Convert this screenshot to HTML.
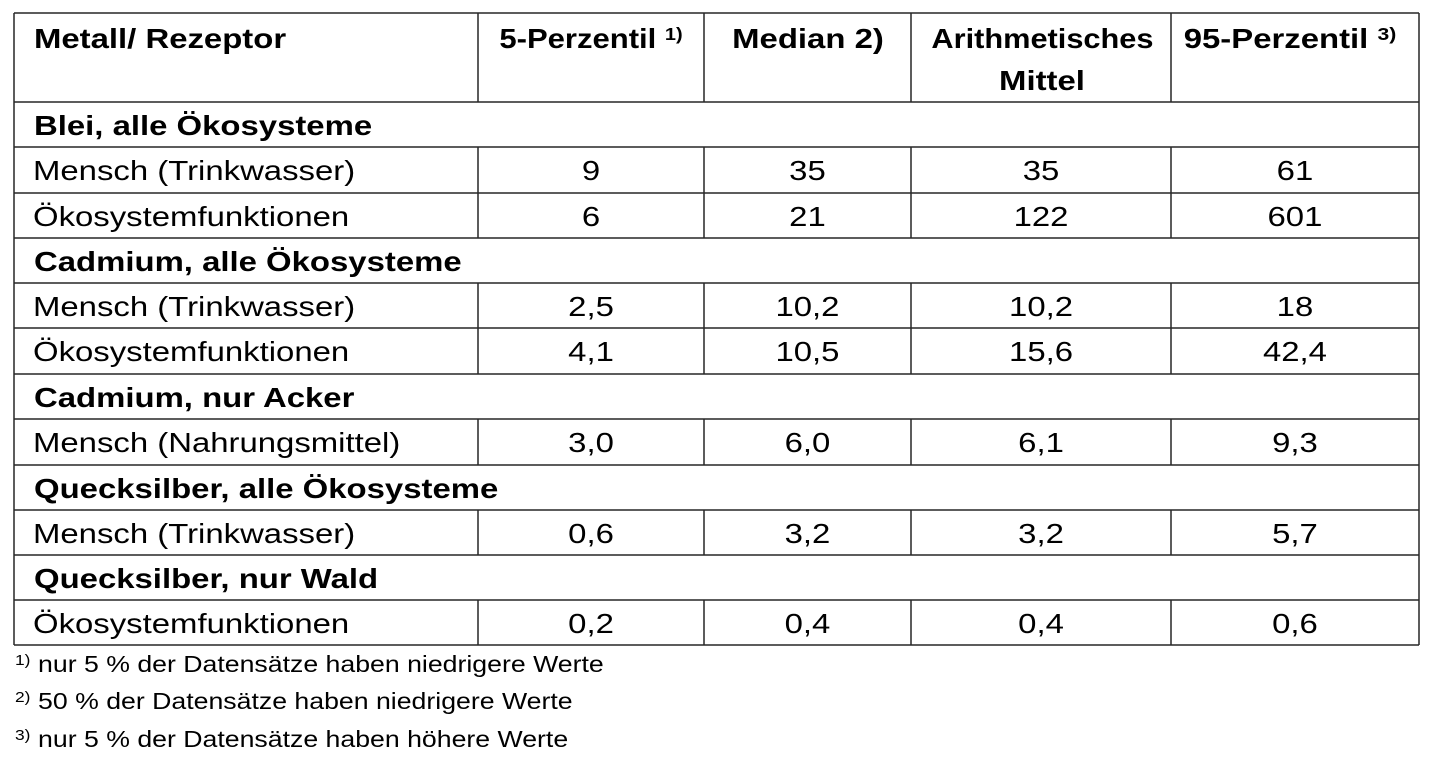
<!DOCTYPE html>
<html>
<head>
<meta charset="utf-8">
<style>
  html, body { margin: 0; padding: 0; background: #ffffff; }
  body { width: 1431px; height: 771px; overflow: hidden; }
  svg { display: block; }
  text { font-family: "Liberation Sans", Arial, sans-serif; fill: #000; }
  .b { font-weight: bold; }
</style>
</head>
<body>
<svg width="1431" height="771" viewBox="0 0 1431 771" xmlns="http://www.w3.org/2000/svg">
  <rect x="0" y="0" width="1431" height="771" fill="#fff"/>
  <g stroke="#262626" stroke-width="1.5" fill="none">
    <line x1="14" y1="13" x2="14" y2="645"/>
    <line x1="1419" y1="13" x2="1419" y2="645"/>
    <line x1="14" y1="13" x2="1419" y2="13"/>
    <line x1="14" y1="102" x2="1419" y2="102"/>
    <line x1="14" y1="147" x2="1419" y2="147"/>
    <line x1="14" y1="193" x2="1419" y2="193"/>
    <line x1="14" y1="238" x2="1419" y2="238"/>
    <line x1="14" y1="283" x2="1419" y2="283"/>
    <line x1="14" y1="328" x2="1419" y2="328"/>
    <line x1="14" y1="374" x2="1419" y2="374"/>
    <line x1="14" y1="419" x2="1419" y2="419"/>
    <line x1="14" y1="465" x2="1419" y2="465"/>
    <line x1="14" y1="510" x2="1419" y2="510"/>
    <line x1="14" y1="555" x2="1419" y2="555"/>
    <line x1="14" y1="600" x2="1419" y2="600"/>
    <line x1="14" y1="645" x2="1419" y2="645"/>
    <path d="M478 13V102 M704 13V102 M911 13V102 M1171 13V102
             M478 147V238 M704 147V238 M911 147V238 M1171 147V238
             M478 283V374 M704 283V374 M911 283V374 M1171 283V374
             M478 419V465 M704 419V465 M911 419V465 M1171 419V465
             M478 510V555 M704 510V555 M911 510V555 M1171 510V555
             M478 600V645 M704 600V645 M911 600V645 M1171 600V645"/>
  </g>

  <g transform="scale(1.175 1)" font-size="28">
    <text class="b" x="28.94" y="48">Metall/ Rezeptor</text>
    <text class="b" x="502.98" y="48" text-anchor="middle" textLength="156" lengthAdjust="spacingAndGlyphs">5-Perzentil <tspan font-size="18" dy="-8">1)</tspan></text>
    <text class="b" x="687.66" y="48" text-anchor="middle">Median 2)</text>
    <text class="b" x="887.2" y="48" text-anchor="middle" textLength="189" lengthAdjust="spacingAndGlyphs">Arithmetisches</text>
    <text class="b" x="886.8" y="90" text-anchor="middle">Mittel</text>
    <text class="b" x="1097.87" y="48" text-anchor="middle">95-Perzentil <tspan font-size="18" dy="-8">3)</tspan></text>

    <text class="b" x="28.94" y="135">Blei, alle Ökosysteme</text>
    <text class="b" x="28.94" y="271">Cadmium, alle Ökosysteme</text>
    <text class="b" x="28.94" y="407">Cadmium, nur Acker</text>
    <text class="b" x="28.94" y="498">Quecksilber, alle Ökosysteme</text>
    <text class="b" x="28.94" y="588">Quecksilber, nur Wald</text>

    <text x="28.09" y="180">Mensch (Trinkwasser)</text>
    <text x="503.0" y="180" text-anchor="middle">9</text>
    <text x="687.2" y="180" text-anchor="middle">35</text>
    <text x="886.0" y="180" text-anchor="middle">35</text>
    <text x="1102.1" y="180" text-anchor="middle">61</text>

    <text x="28.09" y="226">Ökosystemfunktionen</text>
    <text x="503.0" y="226" text-anchor="middle">6</text>
    <text x="687.2" y="226" text-anchor="middle">21</text>
    <text x="886.0" y="226" text-anchor="middle">122</text>
    <text x="1102.1" y="226" text-anchor="middle">601</text>

    <text x="28.09" y="316">Mensch (Trinkwasser)</text>
    <text x="503.0" y="316" text-anchor="middle">2,5</text>
    <text x="687.2" y="316" text-anchor="middle">10,2</text>
    <text x="886.0" y="316" text-anchor="middle">10,2</text>
    <text x="1102.1" y="316" text-anchor="middle">18</text>

    <text x="28.09" y="361">Ökosystemfunktionen</text>
    <text x="503.0" y="361" text-anchor="middle">4,1</text>
    <text x="687.2" y="361" text-anchor="middle">10,5</text>
    <text x="886.0" y="361" text-anchor="middle">15,6</text>
    <text x="1102.1" y="361" text-anchor="middle">42,4</text>

    <text x="28.09" y="452">Mensch (Nahrungsmittel)</text>
    <text x="503.0" y="452" text-anchor="middle">3,0</text>
    <text x="687.2" y="452" text-anchor="middle">6,0</text>
    <text x="886.0" y="452" text-anchor="middle">6,1</text>
    <text x="1102.1" y="452" text-anchor="middle">9,3</text>

    <text x="28.09" y="543">Mensch (Trinkwasser)</text>
    <text x="503.0" y="543" text-anchor="middle">0,6</text>
    <text x="687.2" y="543" text-anchor="middle">3,2</text>
    <text x="886.0" y="543" text-anchor="middle">3,2</text>
    <text x="1102.1" y="543" text-anchor="middle">5,7</text>

    <text x="28.09" y="633">Ökosystemfunktionen</text>
    <text x="503.0" y="633" text-anchor="middle">0,2</text>
    <text x="687.2" y="633" text-anchor="middle">0,4</text>
    <text x="886.0" y="633" text-anchor="middle">0,4</text>
    <text x="1102.1" y="633" text-anchor="middle">0,6</text>
  </g>

  <g transform="scale(1.16 1)">
    <text x="12.9" y="665" font-size="15">1)</text>
    <text x="32.8" y="672" font-size="23">nur 5 % der Datensätze haben niedrigere Werte</text>
    <text x="12.9" y="702" font-size="15">2)</text>
    <text x="32.8" y="709" font-size="23">50 % der Datensätze haben niedrigere Werte</text>
    <text x="12.9" y="740" font-size="15">3)</text>
    <text x="32.8" y="747" font-size="23">nur 5 % der Datensätze haben höhere Werte</text>
  </g>
</svg>
</body>
</html>
